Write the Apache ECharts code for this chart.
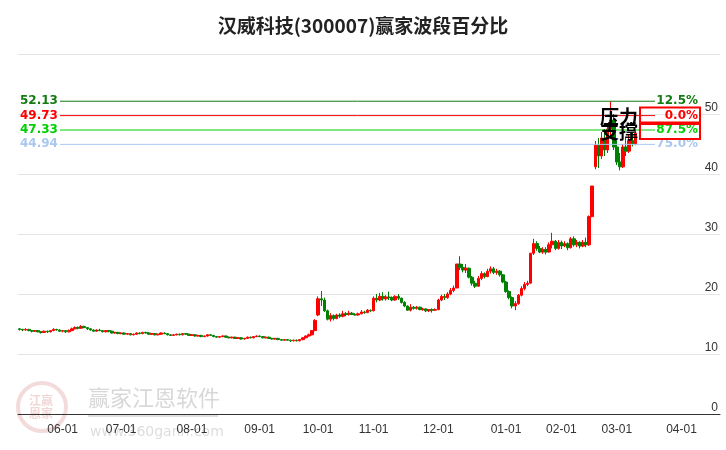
<!DOCTYPE html>
<html><head><meta charset="utf-8">
<script src="https://cdn.jsdelivr.net/npm/echarts@6/dist/echarts.min.js"></script>
<style>html,body{margin:0;padding:0;background:#fff}#c{width:726px;height:450px}</style>
</head><body><div id="c"></div>
<script>
const title = '汉威科技(300007)赢家波段百分比';
const startDate = '2024-05-14';
const endDate = '2025-04-18';
const holidays = ['2024-06-10','2024-09-16','2024-09-17','2024-10-01','2024-10-02','2024-10-03','2024-10-04','2024-10-07','2025-01-01','2025-01-28','2025-01-29','2025-01-30','2025-01-31','2025-02-03','2025-02-04','2025-04-04'];
// [open, close, low, high]
const candles = [
[14.2,14.1,13.9,14.3],[14.1,14.0,13.8,14.2],[14.0,14.1,13.9,14.3],[14.1,13.9,13.8,14.2],[13.9,13.8,13.6,14.0],[13.8,13.9,13.7,14.0],[13.9,13.7,13.6,14.0],[13.7,13.6,13.4,13.8],[13.6,13.8,13.5,13.9],[13.8,13.7,13.5,13.9],[13.7,13.9,13.6,14.0],[13.9,14.1,13.8,14.3],[14.1,14.0,13.9,14.2],[14.0,13.8,13.7,14.1],
[13.8,13.9,13.6,14.0],[13.9,13.7,13.5,14.0],[13.7,13.9,13.6,14.1],[13.9,14.2,13.8,14.4],[14.2,14.4,14.1,14.6],[14.4,14.3,14.1,14.6],[14.3,14.6,14.2,14.8],[14.6,14.4,14.3,14.7],[14.4,14.2,14.0,14.5],[14.2,14.0,13.9,14.3],[14.0,13.8,13.7,14.1],[13.8,14.0,13.7,14.1],[14.0,13.9,13.8,14.2],[13.9,13.7,13.6,14.0],[13.7,13.9,13.6,14.0],[13.9,13.8,13.6,14.0],[13.8,13.5,13.4,13.9],[13.5,13.6,13.4,13.7],[13.6,13.4,13.3,13.7],
[13.4,13.5,13.3,13.6],[13.5,13.3,13.2,13.6],[13.3,13.4,13.2,13.5],[13.4,13.2,13.1,13.5],[13.2,13.3,13.1,13.4],[13.3,13.5,13.2,13.6],[13.5,13.4,13.3,13.6],[13.4,13.6,13.3,13.7],[13.6,13.5,13.4,13.7],[13.5,13.3,13.2,13.6],[13.3,13.4,13.2,13.5],[13.4,13.2,13.1,13.5],[13.2,13.3,13.1,13.4],[13.3,13.5,13.2,13.6],[13.5,13.4,13.3,13.6],[13.4,13.2,13.1,13.5],[13.2,13.1,13.0,13.3],[13.1,13.2,13.0,13.3],[13.2,13.3,13.1,13.4],[13.3,13.2,13.1,13.4],[13.2,13.4,13.1,13.5],[13.4,13.3,13.2,13.5],[13.3,13.1,13.0,13.4],
[13.1,13.2,13.0,13.3],[13.2,13.0,12.9,13.3],[13.0,13.1,12.9,13.2],[13.1,12.9,12.8,13.2],[12.9,13.0,12.8,13.1],[13.0,13.2,12.9,13.3],[13.2,13.1,13.0,13.3],[13.1,12.9,12.8,13.2],[12.9,12.8,12.7,13.0],[12.8,12.9,12.7,13.0],[12.9,13.0,12.8,13.1],[13.0,12.8,12.7,13.1],[12.8,12.7,12.6,12.9],[12.7,12.8,12.6,12.9],[12.8,12.6,12.5,12.9],[12.6,12.7,12.5,12.8],[12.7,12.5,12.4,12.8],[12.5,12.6,12.4,12.7],[12.6,12.8,12.5,12.9],[12.8,12.7,12.6,12.9],[12.7,12.9,12.6,13.0],[12.9,13.0,12.8,13.1],
[13.0,12.9,12.8,13.1],[12.9,12.7,12.6,13.0],[12.7,12.8,12.6,12.9],[12.8,12.6,12.5,12.9],[12.6,12.5,12.4,12.7],[12.5,12.6,12.4,12.7],[12.6,12.4,12.3,12.7],[12.4,12.3,12.2,12.5],[12.3,12.4,12.2,12.5],[12.4,12.3,12.2,12.5],[12.3,12.2,12.0,12.4],[12.2,12.3,12.1,12.4],[12.3,12.2,12.1,12.4],[12.2,12.4,12.1,12.5],[12.4,12.7,12.3,12.8],[12.7,13.0,12.6,13.1],[13.0,13.2,12.9,13.4],[13.2,13.9,13.1,14.0],[13.9,15.6,13.8,15.8],
[16.5,19.2,16.3,19.6],[19.2,19.0,18.0,20.5],[19.0,17.2,17.0,19.4],[17.2,15.8,15.6,17.4],[15.8,16.4,15.4,16.8],[16.4,15.9,15.6,16.6],[15.9,16.5,15.8,16.7],[16.5,16.3,16.0,16.8],[16.3,16.7,16.1,17.2],[16.7,16.6,16.3,17.0],[16.6,16.8,16.4,17.2],[16.8,16.6,16.5,17.0],[16.6,16.5,16.4,16.8],[16.5,16.7,16.4,16.9],[16.7,17.0,16.6,17.3],[17.0,16.9,16.7,17.2],[16.9,17.3,16.8,17.5],[17.3,17.2,17.0,17.4],
[17.2,19.3,17.1,19.6],[19.3,19.0,18.6,20.0],[19.0,19.6,18.8,20.2],[19.6,19.2,18.9,20.3],[19.2,19.5,18.9,19.8],[19.5,19.4,19.0,20.4],[19.4,19.0,18.8,19.6],[19.0,19.6,18.9,19.8],[19.6,19.3,19.0,20.0],[19.3,18.6,18.4,19.4],[18.6,18.0,17.8,18.8],[18.0,17.3,17.2,18.1],[17.3,17.8,17.1,18.3],[17.8,17.6,17.4,18.0],[17.6,17.8,17.4,18.0],[17.8,17.4,17.3,17.9],[17.4,17.5,17.2,17.7],[17.5,17.2,17.0,17.6],[17.2,17.4,17.0,17.5],[17.4,17.3,16.9,17.6],[17.3,17.4,17.2,17.6],
[17.4,19.0,17.3,19.2],[19.0,19.6,18.8,19.9],[19.6,19.4,19.0,20.0],[19.4,20.0,19.2,20.3],[20.0,20.6,19.8,21.0],[20.6,21.0,20.3,21.4],[21.0,25.0,21.0,25.0],[25.0,24.4,24.0,26.3],[24.4,24.0,23.6,25.0],[24.0,24.3,23.5,25.0],[24.3,22.8,22.6,24.4],[22.8,21.8,21.4,23.0],[21.8,21.3,21.0,22.2],[21.3,22.6,21.2,23.0],[22.6,23.4,22.3,23.8],[23.4,22.9,22.6,23.6],[22.9,23.8,22.8,24.2],[23.8,24.2,23.4,24.6],[24.2,23.6,23.3,24.5],[23.6,23.8,23.2,24.2],[23.8,23.2,22.9,24.0],[23.2,22.0,21.8,23.3],
[22.0,20.4,20.2,22.2],[20.4,19.4,19.1,20.6],[19.4,18.0,17.6,19.6],[18.0,18.4,17.3,18.8],[18.4,19.8,18.2,20.0],[19.8,20.9,19.6,21.3],[20.9,21.6,20.6,22.0],[21.6,21.8,21.3,22.2],[21.8,26.8,21.8,26.8],[26.8,28.4,26.5,29.2],[28.4,27.6,27.2,28.8],[27.6,27.0,26.8,28.0],[27.0,27.4,26.7,27.8],[27.4,27.0,26.6,27.8],[27.0,28.2,26.9,28.6],[28.2,28.8,27.6,30.2],[28.8,27.6,27.3,29.0],[27.6,28.6,27.4,29.0],
[28.6,28.0,27.5,28.9],[28.0,28.4,27.8,28.8],[28.4,27.7,27.3,28.6],[27.7,29.2,27.6,29.5],[29.2,28.2,27.9,29.6],[28.2,28.6,27.8,29.0],[28.6,28.0,27.6,28.8],[28.0,28.6,27.8,29.0],[28.6,28.2,27.8,29.4],[28.2,32.9,28.0,33.1],[32.9,38.0,32.8,38.0],[41.2,44.8,40.8,45.5],[44.8,43.0,41.0,46.0],[43.0,46.0,42.5,47.0],[46.0,44.0,43.0,47.5],[44.0,47.5,43.5,48.0],[47.5,49.0,46.0,52.13],[49.0,44.5,44.0,50.0],
[44.5,42.0,41.5,45.5],[42.0,41.2,40.6,43.5],[41.2,44.5,41.0,45.0],[44.5,43.8,43.0,46.0],[43.8,45.6,43.5,46.5],[45.6,45.0,44.6,47.0],[45.0,46.8,44.8,47.3]
];
const levelValues = [52.13, 49.73, 47.33, 44.94];
const levelPcts = ['12.5%', '0.0%', '87.5%', '75.0%'];
const levelColors = ['#137a13', '#ff0000', '#00d000', '#a8c8f0'];
const pctColors = ['#137a13', '#ff0000', '#00d000', '#a8c8f0'];

function pad(n){return n<10?'0'+n:''+n;}
const dates = [];
{
  const d = new Date(startDate+'T00:00:00Z'), e = new Date(endDate+'T00:00:00Z');
  while (d <= e) {
    const s = d.getUTCFullYear()+'-'+pad(d.getUTCMonth()+1)+'-'+pad(d.getUTCDate());
    const w = d.getUTCDay();
    if (w!==0 && w!==6 && holidays.indexOf(s)<0) dates.push(s);
    d.setUTCDate(d.getUTCDate()+1);
  }
}
const isMonthStart = (i) => i>0 && dates[i].slice(5,7)!==dates[i-1].slice(5,7);
const data = candles.map(r => [r[0], r[1], r[2], r[3]]);

const chart = echarts.init(document.getElementById('c'));
chart.setOption({
  animation:false,
  title:{text:title,left:'center',top:11,textStyle:{fontSize:19,fontWeight:'bold',color:'#222',fontFamily:'Noto Sans CJK SC'}},
  grid:{left:18,right:6,top:54,bottom:36},
  xAxis:{type:'category',data:dates,boundaryGap:true,
    axisLine:{lineStyle:{color:'#333'}},
    axisTick:{interval:isMonthStart,length:6,lineStyle:{color:'#333'}},
    axisLabel:{interval:isMonthStart,formatter:v=>v.slice(5,7)+'-01',color:'#333',fontSize:12,margin:10},
    splitLine:{show:false}},
  yAxis:{type:'value',position:'right',min:0,max:60,interval:10,
    axisLine:{show:false},axisTick:{show:false},
    axisLabel:{inside:true,verticalAlign:'bottom',margin:2,color:'#333',fontSize:12,
      formatter:v=>v===60?'':String(v)},
    splitLine:{lineStyle:{color:'#e4e4e4'}}},
  series:[{type:'candlestick',data:data,barWidth:3,
    itemStyle:{color:'#ff0000',color0:'#008000',borderColor:'#ff0000',borderColor0:'#008000',borderWidth:1}}]
});

const g = [];
g.push({type:'circle',shape:{cx:42,cy:407,r:24},style:{fill:'none',stroke:'rgba(200,90,90,0.22)',lineWidth:4},z:0});
g.push({type:'text',x:29,y:394,style:{text:'江赢\n恩家',fill:'rgba(200,90,90,0.25)',font:'bold 12px "Noto Sans CJK SC"',lineHeight:13},z:0});
g.push({type:'text',x:88,y:387,style:{text:'赢家江恩软件',fill:'#d8d8d8',font:'22px "Noto Sans CJK SC"'},z:0});
g.push({type:'rect',shape:{x:88,y:415,width:130,height:2},style:{fill:'#e0e0e0'},z:0});
g.push({type:'text',x:90,y:425,style:{text:'www.360gann.com',fill:'#dddddd',font:'14px "DejaVu Sans"'},z:0});
levelValues.forEach((v,i)=>{
  const y = chart.convertToPixel({yAxisIndex:0}, v);
  g.push({type:'line',shape:{x1:60,y1:y,x2:655,y2:y},style:{stroke:levelColors[i],lineWidth:1},z:5});
  g.push({type:'text',x:20,y:y,style:{text:v.toFixed(2),fill:levelColors[i],font:'bold 12px "DejaVu Sans"',verticalAlign:'middle'},z:6});
  g.push({type:'text',x:698,y:y,style:{text:levelPcts[i],fill:pctColors[i],font:'bold 12px "DejaVu Sans"',align:'right',verticalAlign:'middle'},z:6});
});
const y0 = chart.convertToPixel({yAxisIndex:0}, levelValues[1]);
const y2 = chart.convertToPixel({yAxisIndex:0}, levelValues[2]);
g.push({type:'rect',shape:{x:640,y:y0-8,width:60,height:15},style:{fill:'none',stroke:'#ff0000',lineWidth:2},z:7});
g.push({type:'rect',shape:{x:640,y:y2-6,width:60,height:15},style:{fill:'none',stroke:'#ff0000',lineWidth:2},z:7});
g.push({type:'text',x:600,y:y0+1,style:{text:'压力',fill:'#000',font:'bold 19px "Noto Sans CJK SC"',verticalAlign:'middle'},z:8});
g.push({type:'text',x:600,y:y2+2,style:{text:'支撑',fill:'#000',font:'bold 19px "Noto Sans CJK SC"',verticalAlign:'middle'},z:8});
chart.setOption({graphic:g});
</script></body></html>
